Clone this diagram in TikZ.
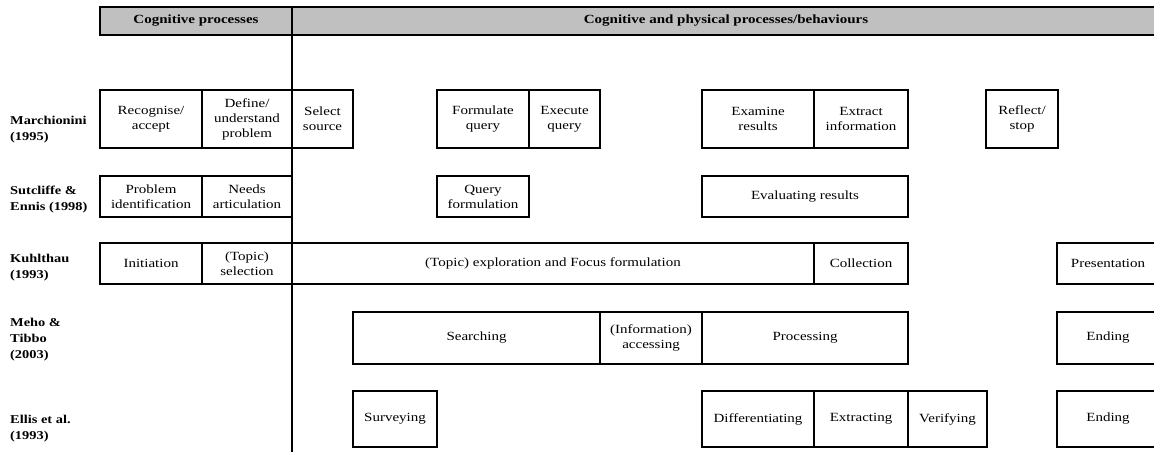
\documentclass[tikz,border=0pt]{standalone}
\usepackage{fontspec}
\setmainfont{Liberation Serif}[FakeStretch=1.2]
\usepackage{tikz}
\usepackage{xcolor}
\usetikzlibrary{positioning}
\definecolor{headgrey}{RGB}{192,192,192}

\tikzset{
  stage/.style={draw, line width=1.2pt, anchor=north west, inner sep=0pt, outer sep=0pt,
    align=center, font=\fontsize{12.5}{15}\selectfont},
  headbox/.style={stage, fill=headgrey, minimum height=28pt, font=\fontsize{12.5}{15}\selectfont\bfseries},
  author/.style={anchor=west, align=left, inner sep=0pt, font=\fontsize{12}{16}\selectfont\bfseries},
  rowa/.style={minimum height=58pt},
  rowb/.style={minimum height=41pt},
  rowc/.style={minimum height=41pt},
  rowd/.style={minimum height=52pt},
  rowe/.style={minimum height=56pt},
}

\begin{document}
\begin{tikzpicture}[x=1pt, y=-1pt]
\clip (0,0) rectangle (1154,452);
% header
\node[headbox, minimum width=192pt] (cogproc) at (100,7) {Cognitive processes};
\node[headbox, minimum width=868pt] (cogphys) at (292,7) {Cognitive and physical processes/behaviours};
\coordinate (divbot) at (292,455);
\draw[line width=1.2pt] (cogproc.north east) -- (divbot);

% authors
\node[author] (marchionini) at (10,130) {Marchionini\\(1995)};
\node[author] (sutcliffe) at (10,200) {Sutcliffe \&\\Ennis (1998)};
\node[author] (kuhlthau) at (10,268) {Kuhlthau\\(1993)};
\node[author] (meho) at (10,340) {Meho \&\\Tibbo\\(2003)};
\node[author] (ellis) at (10,429) {Ellis et al.\\(1993)};

% Marchionini (1995)
\node[stage, rowa, minimum width=102pt] (marRec) at (100,90) {Recognise/\\accept};
\node[stage, rowa, minimum width=90pt] (marDef) at (202,90) {Define/\\understand\\problem};
\node[stage, rowa, minimum width=61pt] (marSel) at (292,90) {Select\\source};
\node[stage, rowa, minimum width=92pt] (marForm) at (437,90) {Formulate\\query};
\node[stage, rowa, minimum width=71pt] (marExec) at (529,90) {Execute\\query};
\node[stage, rowa, minimum width=112pt] (marExam) at (702,90) {Examine\\results};
\node[stage, rowa, minimum width=94pt] (marExtr) at (814,90) {Extract\\information};
\node[stage, rowa, minimum width=72pt] (marRefl) at (986,90) {Reflect/\\stop};

% Sutcliffe & Ennis (1998)
\node[stage, rowb, minimum width=102pt] (sutProb) at (100,176) {Problem\\identification};
\node[stage, rowb, minimum width=90pt] (sutNeed) at (202,176) {Needs\\articulation};
\node[stage, rowb, minimum width=92pt] (sutQuery) at (437,176) {Query\\formulation};
\node[stage, rowb, minimum width=206pt] (sutEval) at (702,176) {Evaluating results};

% Kuhlthau (1993)
\node[stage, rowc, minimum width=102pt] (kuhInit) at (100,243) {Initiation};
\node[stage, rowc, minimum width=90pt] (kuhSel) at (202,243) {(Topic)\\selection};
\node[stage, rowc, minimum width=522pt] (kuhExpl) at (292,243) {(Topic) exploration and Focus formulation};
\node[stage, rowc, minimum width=94pt] (kuhColl) at (814,243) {Collection};
\node[stage, rowc, minimum width=102pt] (kuhPres) at (1057,243) {Presentation};

% Meho & Tibbo (2003)
\node[stage, rowd, minimum width=247pt] (mehSearch) at (353,312) {Searching};
\node[stage, rowd, minimum width=102pt] (mehAccess) at (600,312) {(Information)\\accessing};
\node[stage, rowd, minimum width=206pt] (mehProc) at (702,312) {Processing};
\node[stage, rowd, minimum width=102pt] (mehEnd) at (1057,312) {Ending};

% Ellis et al. (1993)
\node[stage, rowe, minimum width=84pt] (ellSurv) at (353,391) {Surveying};
\node[stage, rowe, minimum width=112pt] (ellDiff) at (702,391) {Differentiating};
\node[stage, rowe, minimum width=94pt] (ellExtr) at (814,391) {Extracting};
\node[stage, rowe, minimum width=79pt] (ellVer) at (908,391) {Verifying};
\node[stage, rowe, minimum width=102pt] (ellEnd) at (1057,391) {Ending};
\end{tikzpicture}
\end{document}
